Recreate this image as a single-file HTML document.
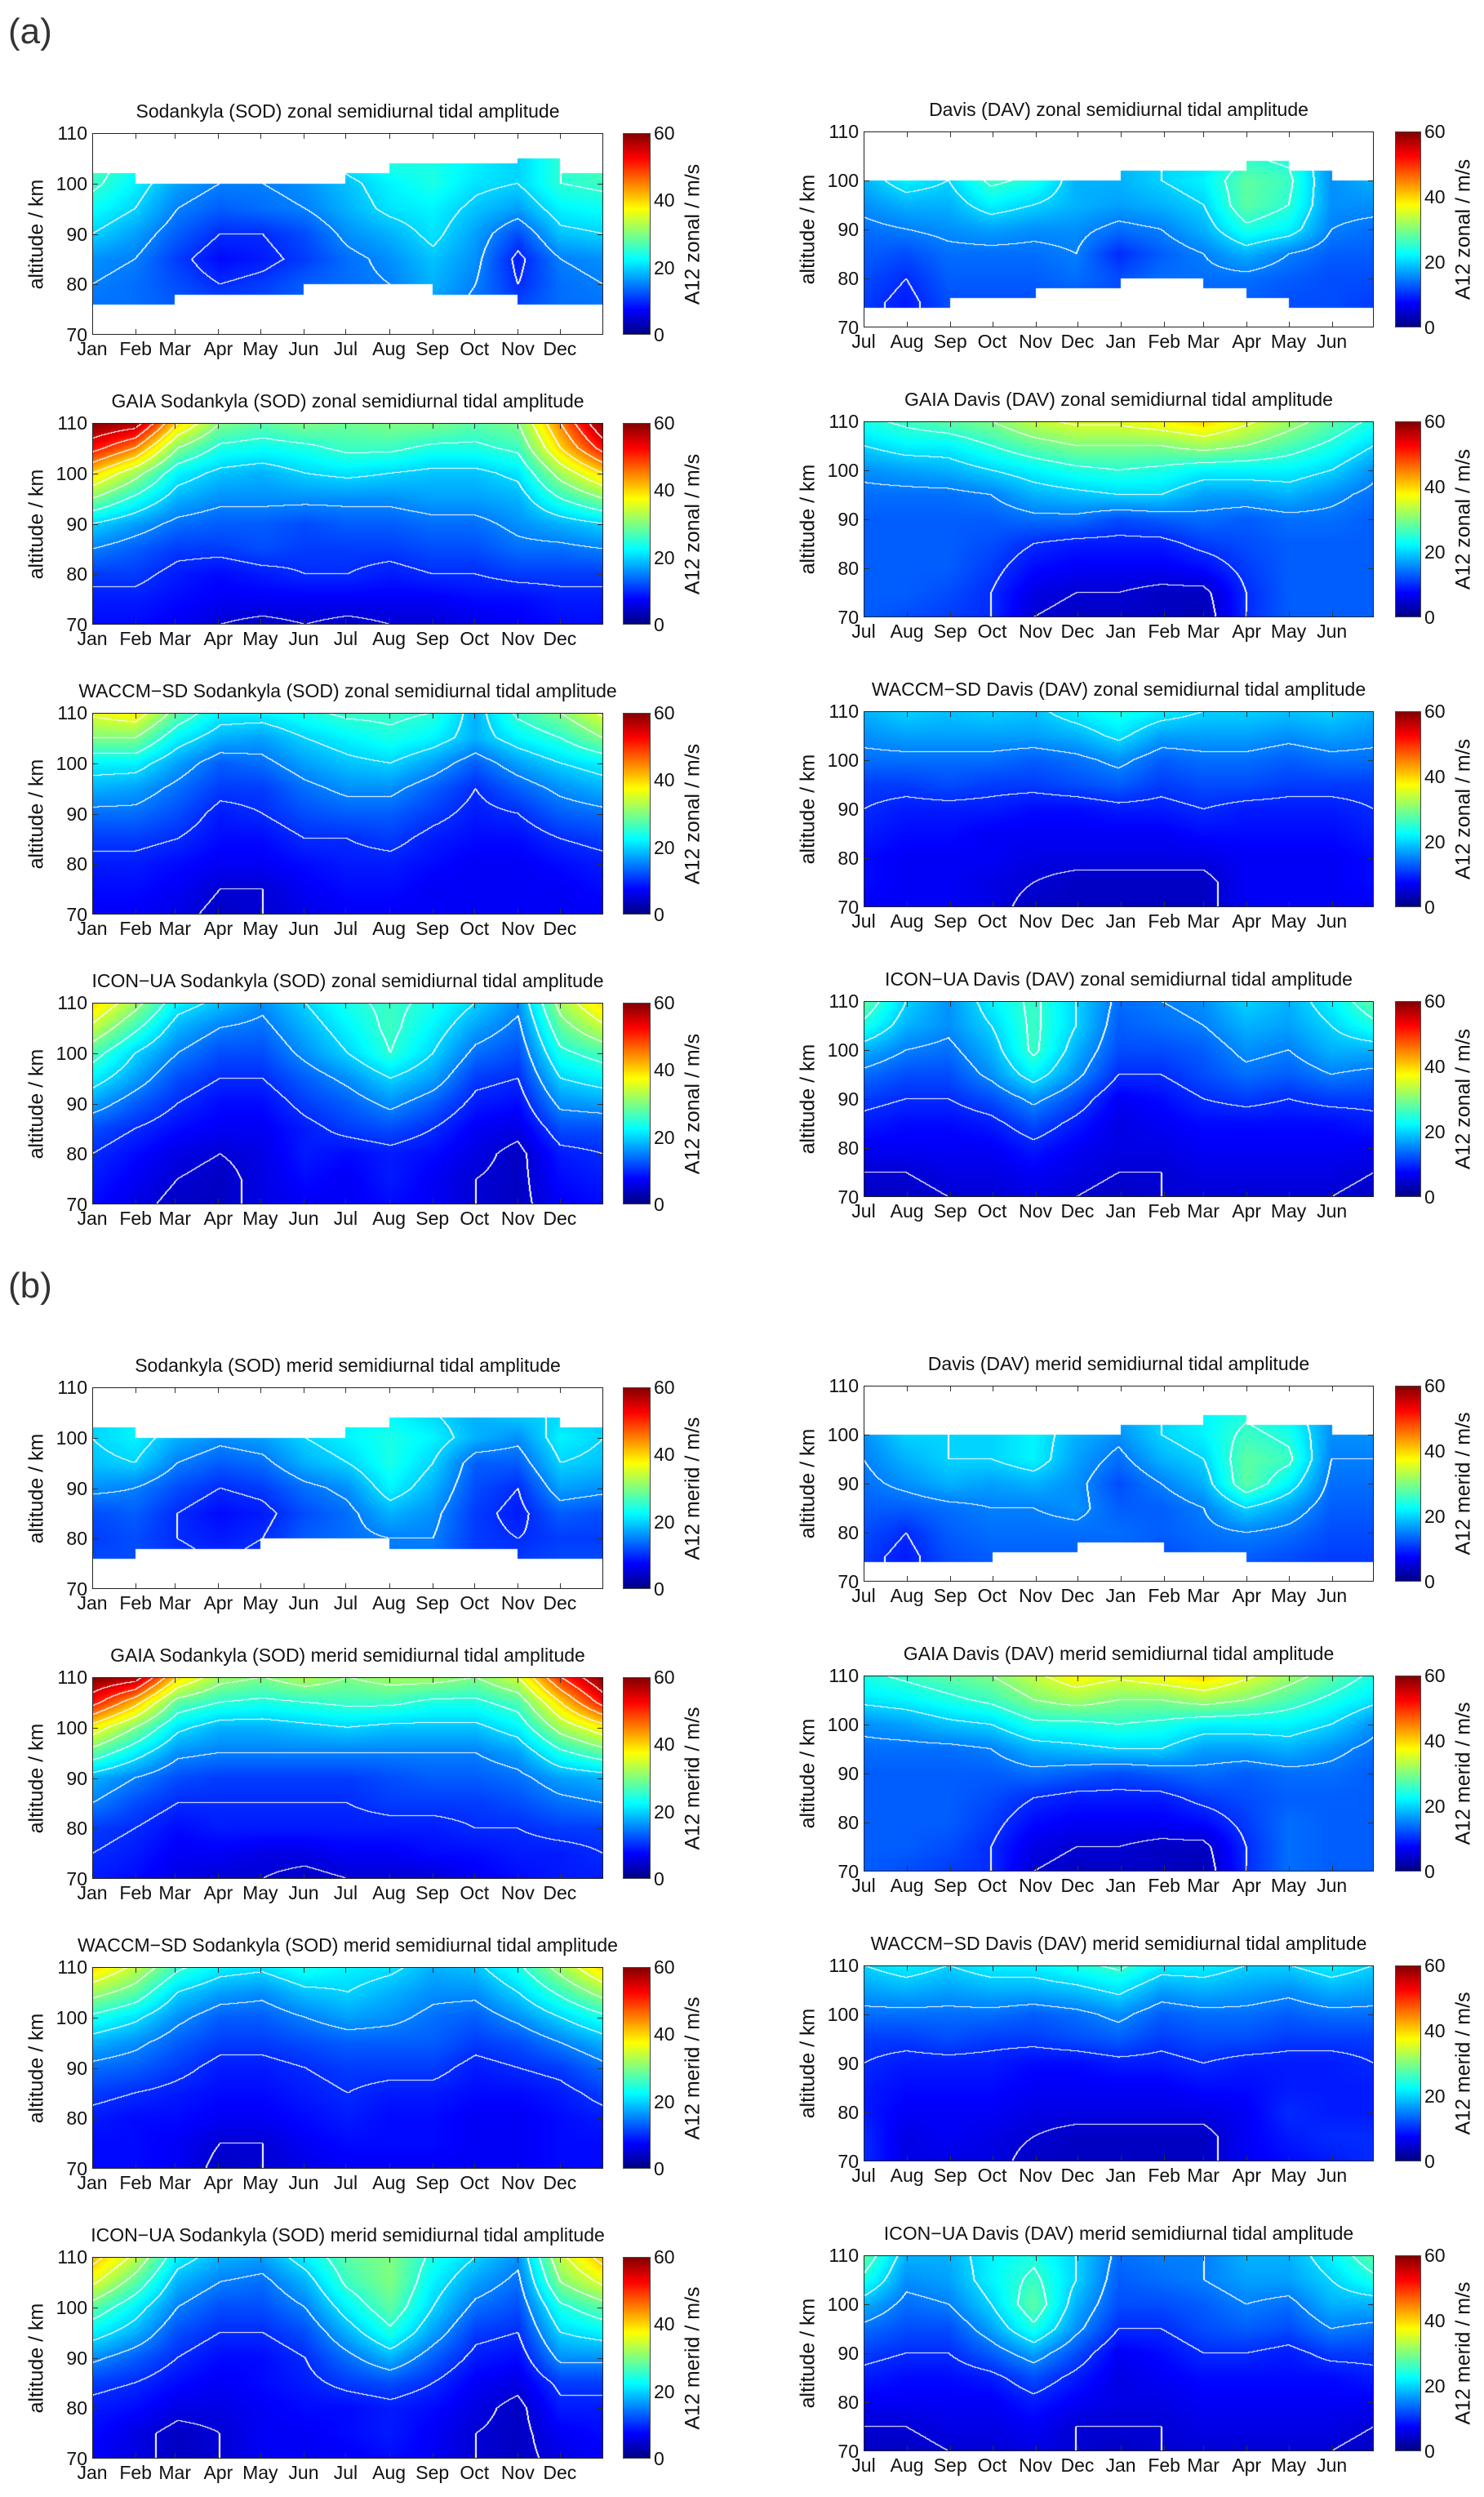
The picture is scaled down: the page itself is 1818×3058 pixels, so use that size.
<!DOCTYPE html>
<html><head><meta charset="utf-8">
<style>
body{margin:0;background:#fff;}
#root{position:relative;width:1818px;height:3058px;overflow:hidden;font-family:"Liberation Sans",Arial,sans-serif;color:#111;}
.abs{position:absolute;}
.plot{position:absolute;border:1.5px solid #222;box-sizing:border-box;}
.cb{position:absolute;border:1px solid #444;box-sizing:border-box;}
.title{position:absolute;font-size:23px;white-space:nowrap;transform:translateX(-50%);}
.tick{position:absolute;background:#333;}
.tl{position:absolute;font-size:23px;white-space:nowrap;}
.ylab{position:absolute;font-size:25px;white-space:nowrap;transform:translate(-50%,-50%) rotate(-90deg);}
.big{position:absolute;font-size:44px;color:#333;}
</style></head>
<body><div id="root">
<div class="big" style="left:10px;top:14px">(a)</div>
<div class="big" style="left:10px;top:1550px">(b)</div>
</div>
<script>
// ---------- data ----------
const altitudes=[110,105,100,95,90,85,80,75,70];
const monthsSOD=["Jan","Feb","Mar","Apr","May","Jun","Jul","Aug","Sep","Oct","Nov","Dec"];
const monthsDAV=["Jul","Aug","Sep","Oct","Nov","Dec","Jan","Feb","Mar","Apr","May","Jun"];
const daysSOD=[0,31,59,90,120,151,181,212,243,273,304,334];
const daysDAV=[0,31,62,92,123,153,184,215,243,274,304,335];
const altTicks=[110,100,90,80,70];
const cbTicks=[60,40,20,0];

const sodObsZ=[[27,24,18,16,18,20,22,25,24,22,20,25,27],[27,24,18,16,18,20,22,25,24,22,20,25,27],[26,22,17,15,15,16,19,22,24,21,20,25,26],[23,20,15,13,14,15,18,21,22,19,17,22,23],[20,17,13,10,10,12,16,18,21,17,12,19,20],[16,15,11,8,9,11,14,16,19,16,9,15,16],[15,14,12,10,11,13,14,15,18,15,10,14,15],[14,14,13,12,12,13,14,15,16,14,12,14,14],[14,14,13,12,12,13,14,15,16,14,12,14,14]];
const sodObsZTop=[102,100,100,100,100,100,102,104,104,104,105,102];
const sodObsZBot=[76,76,78,78,78,80,80,80,78,78,76,76];
const sodGaiaZ=[[60,58,40,30,28,30,29,30,30,28,30,45,60],[52,45,30,24,23,24,26,26,24,24,26,40,52],[40,32,22,19,18,20,21,20,19,19,21,32,40],[30,24,18,16,16,16,16,16,17,17,18,25,30],[20,17,14,13,13,12,13,13,14,14,16,18,20],[15,13,11,11,12,11,11,11,12,12,14,14,15],[11,11,9,8,9,10,10,9,10,10,11,11,11],[9,9,8,7,7,7,7,7,7,8,8,9,9],[8,8,7,5,4,5,4,5,5,6,7,8,8]];
const sodWaccmZ=[[36,38,28,22,22,24,26,26,25,18,26,30,36],[30,30,22,18,17,20,22,24,22,18,22,25,30],[22,22,17,13,14,17,19,20,17,13,17,20,22],[18,17,14,11,11,14,16,16,13,10,13,16,18],[14,14,12,9,10,12,13,13,11,9,10,13,14],[11,11,10,8,8,10,10,11,9,8,8,10,11],[9,9,8,7,7,8,9,9,8,7,7,8,9],[8,8,7,5,5,7,8,8,7,7,7,7,8],[7,7,6,4,5,6,7,7,7,7,7,7,7]];
const sodIconZ=[[40,32,22,19,16,20,24,26,24,20,16,32,40],[34,26,18,15,14,18,22,26,22,17,14,28,34],[27,20,15,12,12,16,20,25,20,14,12,24,27],[22,17,12,10,10,13,16,20,17,11,10,20,22],[17,13,10,8,8,11,13,16,13,9,8,16,17],[12,10,8,7,7,9,11,12,10,7,6,12,12],[10,8,6,5,6,9,8,9,8,6,4,9,10],[9,7,5,4,6,8,7,9,7,5,4,8,9],[8,6,4,4,6,7,7,8,7,5,4,7,8]];
const davObsZ=[[18,20,22,20,22,18,18,20,20,25,24,16,18],[18,20,22,20,22,18,18,20,20,25,24,16,18],[18,22,20,26,24,18,18,20,22,28,26,16,18],[16,18,18,22,20,18,17,18,20,28,25,16,16],[14,15,16,17,16,16,14,15,18,24,22,15,14],[13,12,14,14,14,15,10,13,15,18,15,13,13],[12,10,13,13,13,14,12,14,14,14,13,12,12],[11,9,12,12,12,12,12,12,13,13,12,12,11],[11,9,12,12,12,12,12,12,13,13,12,12,11]];
const davObsZTop=[100,100,100,100,100,100,102,102,102,104,102,100];
const davObsZBot=[74,74,76,76,78,78,80,80,78,76,74,74];
const davGaiaZ=[[24,26,28,30,34,36,36,38,40,36,32,28,24],[20,22,22,25,28,30,30,30,32,30,27,24,20],[16,17,18,20,22,24,25,24,22,22,22,20,16],[14,14,14,15,18,19,20,20,17,17,18,16,14],[13,13,13,13,14,14,12,13,14,13,14,14,13],[13,13,13,12,10,9,9,9,11,12,13,13,13],[13,13,13,11,8,7,7,7,8,11,13,13,13],[13,13,12,10,6,5,5,4,4,10,13,13,13],[13,12,11,10,5,4,4,4,3,10,13,13,13]];
const davWaccmZ=[[18,20,19,20,19,22,24,22,20,20,19,20,18],[16,17,17,17,17,18,21,17,17,17,16,17,16],[14,14,14,14,13,14,16,13,14,14,13,14,14],[11,11,12,11,11,12,13,11,12,12,11,11,11],[10,9,9,9,8,8,9,9,10,9,9,9,10],[9,8,8,7,7,7,7,7,8,8,8,8,9],[8,7,7,7,6,6,6,6,6,7,7,7,8],[8,7,7,6,5,4,4,4,4,7,7,7,8],[7,7,7,6,4,4,4,4,4,7,7,7,7]];
const davIconZ=[[28,20,16,22,26,20,14,15,16,20,18,22,28],[24,18,16,20,26,20,13,14,15,18,17,20,24],[18,15,14,18,26,18,12,12,13,16,15,18,18],[14,12,12,16,22,16,10,10,12,14,13,15,14],[11,10,10,12,16,12,7,8,10,11,10,11,11],[9,8,8,9,12,9,6,7,8,8,8,8,9],[7,7,7,7,9,7,6,6,7,7,7,7,7],[5,5,6,6,7,6,5,5,6,6,6,6,5],[4,4,5,5,6,5,4,5,5,5,5,5,4]];

const sodObsM=[[20,22,18,20,22,20,22,22,20,18,20,20,20],[20,22,18,20,22,20,22,22,20,18,20,20,20],[20,22,18,16,17,20,22,24,22,18,16,22,20],[19,20,15,13,14,18,20,24,20,13,13,20,19],[16,15,12,10,11,14,16,22,18,12,10,17,16],[12,13,10,8,9,12,14,18,16,11,9,13,12],[11,12,10,9,10,13,14,15,15,11,10,11,11],[12,12,11,10,11,13,14,14,14,11,11,12,12],[12,12,11,10,11,13,14,14,14,11,11,12,12]];
const sodObsMTop=[102,100,100,100,100,100,102,104,104,104,104,102];
const sodObsMBot=[76,78,78,78,80,80,80,78,78,78,76,76];
const sodGaiaM=[[60,58,40,32,30,33,30,32,32,30,35,50,60],[52,42,28,25,24,25,26,26,24,24,27,40,52],[38,30,21,18,18,19,20,19,19,19,22,32,38],[28,22,16,15,15,15,15,15,15,15,17,24,28],[18,15,12,11,11,11,11,12,13,13,14,17,18],[15,12,10,10,10,10,10,11,11,11,12,14,15],[11,10,8,9,9,9,9,9,9,10,10,11,11],[10,9,7,7,6,6,7,7,8,8,9,9,10],[9,8,6,5,5,4,5,5,5,7,8,9,9]];
const sodWaccmM=[[40,34,26,22,21,24,22,21,18,19,24,32,40],[32,28,20,17,16,19,20,18,16,16,20,26,32],[24,21,16,13,13,15,17,16,14,13,16,20,24],[18,16,13,11,11,12,13,13,13,11,12,15,18],[14,13,11,9,9,10,11,11,11,9,10,11,14],[11,10,9,8,8,9,10,9,9,8,8,9,11],[9,8,8,7,7,8,9,8,8,7,7,8,9],[8,8,7,5,5,7,8,8,8,7,7,8,8],[8,8,7,4,5,6,7,7,7,7,7,8,8]];
const sodIconM=[[42,34,22,18,17,22,28,30,24,20,16,34,42],[36,28,18,15,14,18,26,30,22,17,14,30,36],[28,22,15,12,12,15,22,28,20,14,12,24,28],[22,18,12,10,10,12,18,24,17,11,10,20,22],[16,13,10,8,8,10,14,18,13,9,8,16,16],[11,10,8,7,8,9,11,12,10,7,6,11,11],[9,8,6,6,7,8,8,9,8,6,4,9,9],[8,6,4,5,7,7,8,9,7,5,4,7,8],[7,6,4,5,7,7,7,8,7,5,4,6,7]];
const davObsM=[[18,20,20,20,20,18,18,20,22,24,22,16,18],[18,20,20,20,20,18,18,20,22,24,22,16,18],[16,20,20,20,22,18,16,20,22,26,24,16,16],[15,18,20,20,22,17,14,18,20,28,26,15,15],[14,16,18,17,18,16,12,15,18,28,22,14,14],[13,13,14,15,15,16,13,13,15,20,17,13,13],[12,10,13,14,14,14,14,13,14,15,14,12,12],[11,9,12,13,13,13,13,12,13,13,12,11,11],[11,9,12,13,13,13,13,12,13,13,12,11,11]];
const davObsMTop=[100,100,100,100,100,100,102,102,104,102,102,100];
const davObsMBot=[74,74,74,76,76,78,78,76,76,74,74,74];
const davGaiaM=[[24,26,28,30,34,38,36,38,40,36,32,28,24],[21,22,24,26,30,32,30,30,32,30,27,24,21],[16,17,19,20,24,24,25,24,22,22,22,20,16],[14,14,14,15,18,19,20,20,17,17,18,16,14],[13,13,13,13,14,13,12,13,14,13,14,14,13],[13,13,13,12,10,9,9,9,11,12,13,13,13],[13,13,13,11,8,7,7,7,8,11,14,13,13],[13,13,12,10,6,5,5,4,4,10,14,13,13],[13,12,11,10,5,4,4,4,3,10,14,13,13]];
const davWaccmM=[[20,22,20,22,22,24,26,22,22,20,20,22,20],[17,18,17,18,18,19,21,17,18,17,16,18,17],[14,14,14,14,13,14,16,13,14,14,13,14,14],[11,11,12,11,11,12,13,11,12,12,11,11,11],[10,9,9,9,8,8,9,9,10,9,9,9,10],[9,8,8,8,7,7,7,7,8,8,9,9,9],[9,7,7,7,6,6,6,6,6,7,10,9,9],[10,6,7,6,5,4,4,4,4,7,9,10,10],[10,6,6,6,4,4,4,4,4,7,8,9,10]];
const davIconM=[[28,18,18,22,24,20,14,15,15,18,18,22,28],[24,16,17,22,26,20,13,14,15,17,17,20,24],[18,14,15,20,28,18,12,12,13,15,14,18,18],[14,12,12,17,24,16,10,10,12,13,12,15,14],[11,10,10,13,17,12,7,8,10,10,9,11,11],[9,8,8,9,12,9,6,7,8,8,8,8,9],[7,7,7,7,9,7,6,6,7,7,7,7,7],[5,5,6,6,7,5,5,5,6,6,6,6,5],[4,4,5,5,6,5,4,5,5,5,5,5,4]];

// ---------- layout ----------
const leftTops=[163,518,873,1228,1699,2054,2409,2764];
const panels=[
 {t:"Sodankyla (SOD) zonal semidiurnal tidal amplitude",d:sodObsZ,top:sodObsZTop,bot:sodObsZBot,c:0,r:0,u:"zonal",n:"sod-obs-zonal"},
 {t:"GAIA Sodankyla (SOD) zonal semidiurnal tidal amplitude",d:sodGaiaZ,c:0,r:1,u:"zonal",n:"sod-gaia-zonal"},
 {t:"WACCM\u2212SD Sodankyla (SOD) zonal semidiurnal tidal amplitude",d:sodWaccmZ,c:0,r:2,u:"zonal",n:"sod-waccm-zonal"},
 {t:"ICON\u2212UA Sodankyla (SOD) zonal semidiurnal tidal amplitude",d:sodIconZ,c:0,r:3,u:"zonal",n:"sod-icon-zonal"},
 {t:"Davis (DAV) zonal semidiurnal tidal amplitude",d:davObsZ,top:davObsZTop,bot:davObsZBot,c:1,r:0,u:"zonal",n:"dav-obs-zonal"},
 {t:"GAIA Davis (DAV) zonal semidiurnal tidal amplitude",d:davGaiaZ,c:1,r:1,u:"zonal",n:"dav-gaia-zonal"},
 {t:"WACCM\u2212SD Davis (DAV) zonal semidiurnal tidal amplitude",d:davWaccmZ,c:1,r:2,u:"zonal",n:"dav-waccm-zonal"},
 {t:"ICON\u2212UA Davis (DAV) zonal semidiurnal tidal amplitude",d:davIconZ,c:1,r:3,u:"zonal",n:"dav-icon-zonal"},
 {t:"Sodankyla (SOD) merid semidiurnal tidal amplitude",d:sodObsM,top:sodObsMTop,bot:sodObsMBot,c:0,r:4,u:"merid",n:"sod-obs-merid"},
 {t:"GAIA Sodankyla (SOD) merid semidiurnal tidal amplitude",d:sodGaiaM,c:0,r:5,u:"merid",n:"sod-gaia-merid"},
 {t:"WACCM\u2212SD Sodankyla (SOD) merid semidiurnal tidal amplitude",d:sodWaccmM,c:0,r:6,u:"merid",n:"sod-waccm-merid"},
 {t:"ICON\u2212UA Sodankyla (SOD) merid semidiurnal tidal amplitude",d:sodIconM,c:0,r:7,u:"merid",n:"sod-icon-merid"},
 {t:"Davis (DAV) merid semidiurnal tidal amplitude",d:davObsM,top:davObsMTop,bot:davObsMBot,c:1,r:4,u:"merid",n:"dav-obs-merid"},
 {t:"GAIA Davis (DAV) merid semidiurnal tidal amplitude",d:davGaiaM,c:1,r:5,u:"merid",n:"dav-gaia-merid"},
 {t:"WACCM\u2212SD Davis (DAV) merid semidiurnal tidal amplitude",d:davWaccmM,c:1,r:6,u:"merid",n:"dav-waccm-merid"},
 {t:"ICON\u2212UA Davis (DAV) merid semidiurnal tidal amplitude",d:davIconM,c:1,r:7,u:"merid",n:"dav-icon-merid"}
];
const root=document.getElementById('root');
function jet(x){x=Math.max(0,Math.min(1,x));
 const f=v=>Math.round(255*Math.max(0,Math.min(1,v)));
 return [f(1.5-Math.abs(4*x-3)),f(1.5-Math.abs(4*x-2)),f(1.5-Math.abs(4*x-1))];}
function mk(tag,cls,name,inter){const e=document.createElement(tag);if(cls)e.className=cls;
 
 
 root.appendChild(e);return e;}

panels.forEach(p=>{
 const X=p.c?1058:113, W=p.c?625:626, H=p.c?240:247, Y=leftTops[p.r]-(p.c?2:0);
 const months=p.c?monthsDAV:monthsSOD, days=p.c?daysDAV:daysSOD;
 const xs=d=>X+d/365*W, ys=a=>Y+(110-a)/40*H;
 const t=mk('div','title',p.n+'-title',false);t.textContent=p.t;
 t.style.left=(X+W/2)+'px';t.style.top=(Y-40)+'px';
 const cv=mk('canvas','abs',p.n+'-heatmap',false);cv.width=W;cv.height=H;
 cv.style.left=X+'px';cv.style.top=Y+'px';
 const ctx=cv.getContext('2d');const img=ctx.createImageData(W,H);
 const val=new Float32Array(W*H),mask=new Uint8Array(W*H);
 const nc=p.d[0].length-1,nr=altitudes.length-1;
 for(let py=0;py<H;py++){const alt=110-(py+0.5)/H*40;const rf=(110-alt)/5;const r0=Math.min(nr-1,Math.floor(rf)),fr=rf-r0;
  for(let px=0;px<W;px++){const cf=(px+0.5)/W*nc;const c0=Math.min(nc-1,Math.floor(cf)),fc=cf-c0;
   const v=(p.d[r0][c0]*(1-fc)+p.d[r0][c0+1]*fc)*(1-fr)+(p.d[r0+1][c0]*(1-fc)+p.d[r0+1][c0+1]*fc)*fr;
   val[py*W+px]=v;
   if(p.top){const day=(px+0.5)/W*365;let m=0;for(let k=0;k<12;k++)if(day>=days[k])m=k;
    if(alt>p.top[m]||alt<p.bot[m])mask[py*W+px]=1;}
  }}
 for(let i=0;i<W*H;i++){const o=i*4;
  if(mask[i]){img.data[o]=img.data[o+1]=img.data[o+2]=255;img.data[o+3]=255;continue;}
  const px=i%W,py=(i/W)|0;const l=Math.floor(val[i]/5);let line=false;
  if(px<W-1&&!mask[i+1]&&Math.floor(val[i+1]/5)!==l)line=true;
  if(py<H-1&&!mask[i+W]&&Math.floor(val[i+W]/5)!==l)line=true;
  if(px>0&&!mask[i-1]&&Math.floor(val[i-1]/5)!==l)line=true;
  const c=line?[255,255,255]:jet(val[i]/60);
  img.data[o]=c[0];img.data[o+1]=c[1];img.data[o+2]=c[2];img.data[o+3]=255;}
 ctx.putImageData(img,0,0);
 const fr=mk('div','plot',p.n+'-axes',false);
 fr.style.left=X+'px';fr.style.top=Y+'px';fr.style.width=W+'px';fr.style.height=H+'px';
 days.forEach((d,i)=>{
  if(i>0){[Y+1,Y+H-7].forEach(ty=>{const tk=mk('div','tick',p.n+'-x-tick',false);
   tk.style.left=xs(d)+'px';tk.style.top=ty+'px';tk.style.width='1px';tk.style.height='6px';});}
  const lb=mk('div','tl',p.n+'-x-label-'+months[i].toLowerCase(),false);lb.textContent=months[i];
  lb.style.left=xs(d)+'px';lb.style.top=(Y+H+4)+'px';lb.style.transform='translateX(-50%)';
 });
 altTicks.forEach(a=>{
  if(a<110&&a>70){[X+1,X+W-7].forEach(tx=>{const tk=mk('div','tick',p.n+'-y-tick',false);
   tk.style.left=tx+'px';tk.style.top=ys(a)+'px';tk.style.width='6px';tk.style.height='1px';});}
  const lb=mk('div','tl',p.n+'-y-label-'+a,false);lb.textContent=a;
  lb.style.left=(X-6)+'px';lb.style.top=(ys(a)-13)+'px';lb.style.transform='translateX(-100%)';
 });
 const yl=mk('div','ylab',p.n+'-y-axis-title',false);yl.textContent='altitude / km';
 yl.style.left=(X-68)+'px';yl.style.top=(Y+H/2)+'px';
 const CX=p.c?1709:763,CW=p.c?32:34;
 const cb=mk('canvas','abs',p.n+'-colorbar',false);cb.width=CW;cb.height=H;
 cb.style.left=CX+'px';cb.style.top=Y+'px';
 const cc=cb.getContext('2d');
 for(let y=0;y<H;y++){const c=jet(1-(y+0.5)/H);cc.fillStyle='rgb('+c.join(',')+')';cc.fillRect(0,y,CW,1);}
 const cbf=mk('div','cb',p.n+'-colorbar-frame',false);
 cbf.style.left=CX+'px';cbf.style.top=Y+'px';cbf.style.width=CW+'px';cbf.style.height=H+'px';
 cbTicks.forEach(v=>{const lb=mk('div','tl',p.n+'-colorbar-label-'+v,false);lb.textContent=v;
  lb.style.left=(CX+CW+4)+'px';lb.style.top=(Y+(60-v)/60*H-13)+'px';});
 const cl=mk('div','ylab',p.n+'-colorbar-title',false);cl.textContent='A12 '+p.u+' / m/s';
 cl.style.left=(CX+CW+52)+'px';cl.style.top=(Y+H/2)+'px';
});
</script>
</body></html>
